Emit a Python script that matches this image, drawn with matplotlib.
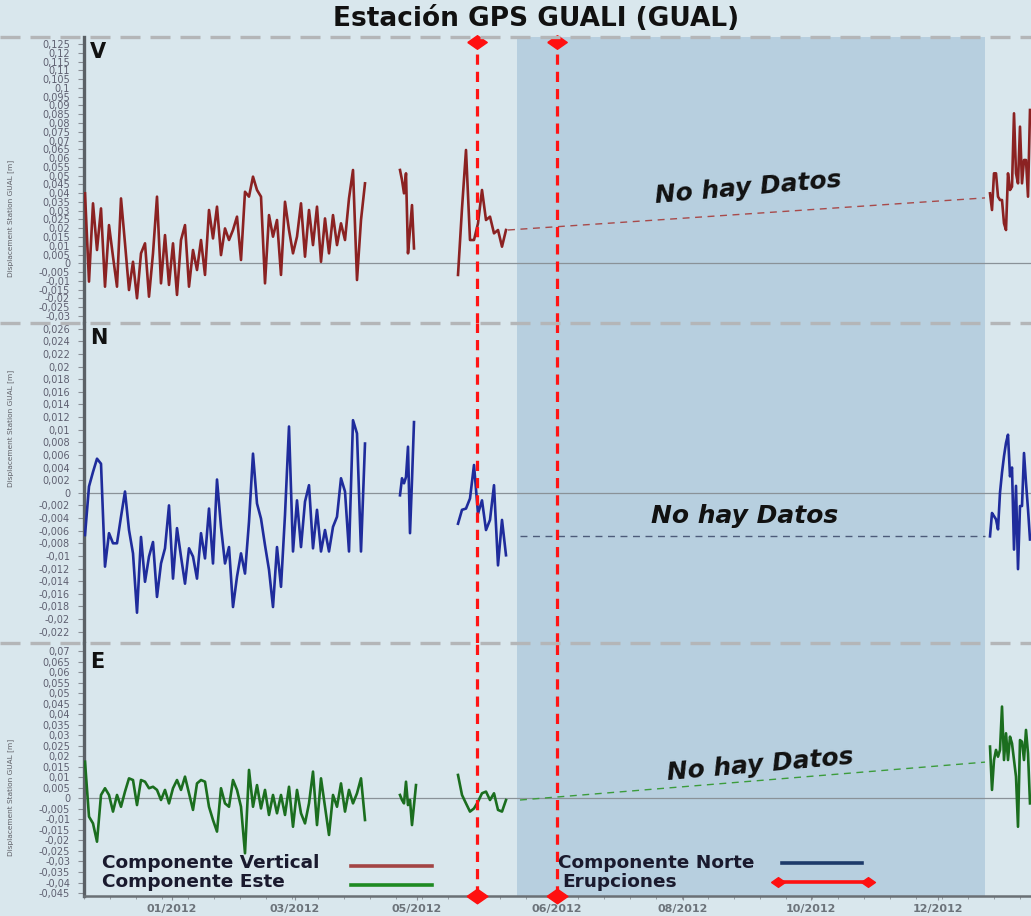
import numpy as np
import matplotlib
matplotlib.use("Agg")
import matplotlib.pyplot as plt
from matplotlib.lines import Line2D
from matplotlib.ticker import FuncFormatter, MultipleLocator
import matplotlib.transforms as mtransforms

# ---------------- data ----------------
title = "Estación GPS GUALI (GUAL)"
date_ticks = [44, 105.5, 166.5, 236.5, 299.5, 363.5, 427]
date_labels = ["01/2012", "03/2012", "05/2012", "06/2012", "08/2012", "10/2012", "12/2012"]
eruption_days = [196.5, 236.5]
nodata_span = [216.5, 450.5]

seg_starts = [0.5, 158, 187, 453]
seg_steps = [2, 1, 2, 1]

v_seg1 = [0.0399, -0.0104, 0.0342, 0.0076, 0.0313, -0.0133, 0.0218, 0.0038, -0.0133, 0.0370,
          0.0114, -0.0152, 0.0009, -0.0199, 0.0057, 0.0114, -0.0190, 0.0057, 0.0380, -0.0114,
          0.0161, -0.0123, 0.0114, -0.0180, 0.0133, 0.0218, -0.0133, 0.0076, -0.0038, 0.0133,
          -0.0066, 0.0304, 0.0142, 0.0323, 0.0047, 0.0199, 0.0133, 0.0190, 0.0266, 0.0019,
          0.0408, 0.0380, 0.0494, 0.0418, 0.0380, -0.0114, 0.0275, 0.0152, 0.0247, -0.0066,
          0.0351, 0.0190, 0.0057, 0.0152, 0.0342, 0.0038, 0.0304, 0.0104, 0.0323, 0.0009,
          0.0256, 0.0057, 0.0275, 0.0104, 0.0228, 0.0133, 0.0370, 0.0532, -0.0095, 0.0247,
          0.0456]
v_seg2 = [0.0532, 0.0475, 0.0399, 0.0513, 0.0057, 0.0190, 0.0332, 0.0085]
v_seg3 = [-0.0066, 0.0313, 0.0646, 0.0133, 0.0133, 0.0228, 0.0418, 0.0247, 0.0266, 0.0171,
          0.0190, 0.0095, 0.0190]
v_seg4 = [0.0399, 0.0304, 0.0513, 0.0513, 0.0380, 0.0361, 0.0361, 0.0228, 0.0190, 0.0513,
          0.0418, 0.0437, 0.0855, 0.0513, 0.0456, 0.0779, 0.0456, 0.0589, 0.0589, 0.0380,
          0.0874]
v_gap_days = [212, 450.5]
v_gap_vals = [0.0190, 0.0373]

n_seg1 = [-0.0067, 0.0010, 0.0033, 0.0054, 0.0046, -0.0117, -0.0064, -0.0080, -0.0080, -0.0038,
          0.0002, -0.0059, -0.0096, -0.0190, -0.0070, -0.0141, -0.0101, -0.0078, -0.0165, -0.0112,
          -0.0088, -0.0020, -0.0136, -0.0056, -0.0101, -0.0144, -0.0088, -0.0101, -0.0136, -0.0064,
          -0.0104, -0.0025, -0.0112, 0.0021, -0.0054, -0.0112, -0.0086, -0.0181, -0.0133, -0.0096,
          -0.0128, -0.0046, 0.0062, -0.0017, -0.0041, -0.0083, -0.0122, -0.0181, -0.0086, -0.0149,
          -0.0035, 0.0105, -0.0093, -0.0012, -0.0086, -0.0014, 0.0012, -0.0088, -0.0027, -0.0093,
          -0.0059, -0.0093, -0.0054, -0.0038, 0.0023, 0.0002, -0.0093, 0.0115, 0.0094, -0.0093,
          0.0078]
n_seg2 = [-0.0004, 0.0023, 0.0015, 0.0025, 0.0073, -0.0064, 0.0020, 0.0112]
n_seg3 = [-0.0049, -0.0027, -0.0025, -0.0009, 0.0044, -0.0033, -0.0012, -0.0059, -0.0043, 0.0012,
          -0.0115, -0.0043, -0.0099]
n_seg4 = [-0.0069, -0.0032, -0.0037, -0.0042, -0.0058, 0.0000, 0.0032, 0.0058, 0.0079, 0.0092,
          0.0026, 0.0040, -0.0090, 0.0011, -0.0121, -0.0021, -0.0021, 0.0063, 0.0016, -0.0026,
          -0.0074]
n_gap_days = [218, 450.5]
n_gap_vals = [-0.0068, -0.0068]

e_seg1 = [0.0174, -0.0087, -0.0119, -0.0206, 0.0016, 0.0048, 0.0016, -0.0063, 0.0016, -0.0040,
          0.0032, 0.0095, 0.0087, -0.0032, 0.0087, 0.0079, 0.0048, 0.0055, 0.0040, -0.0008,
          0.0040, -0.0024, 0.0048, 0.0087, 0.0040, 0.0103, 0.0024, -0.0055, 0.0071, 0.0087,
          0.0079, -0.0040, -0.0103, -0.0158, 0.0048, -0.0024, -0.0040, 0.0087, 0.0040, -0.0040,
          -0.0261, 0.0135, -0.0040, 0.0063, -0.0048, 0.0040, -0.0079, 0.0016, -0.0071, 0.0016,
          -0.0079, 0.0055, -0.0135, 0.0040, -0.0071, -0.0119, -0.0024, 0.0127, -0.0127, 0.0095,
          -0.0040, -0.0174, 0.0016, -0.0040, 0.0071, -0.0063, 0.0040, -0.0024, 0.0024, 0.0095,
          -0.0103]
e_seg2 = [0.0016, -0.0008, -0.0024, 0.0079, -0.0032, -0.0008, -0.0127, -0.0032, 0.0063]
e_seg3 = [0.0111, 0.0016, -0.0024, -0.0063, -0.0048, -0.0016, 0.0024, 0.0032, -0.0008, 0.0024,
          -0.0055, -0.0063, -0.0008]
e_seg4 = [0.0246, 0.0040, 0.0182, 0.0230, 0.0198, 0.0230, 0.0436, 0.0182, 0.0309, 0.0182,
          0.0293, 0.0261, 0.0182, 0.0103, -0.0135, 0.0277, 0.0269, 0.0182, 0.0325, 0.0214,
          -0.0024]
e_gap_days = [218, 450.5]
e_gap_vals = [-0.0008, 0.0172]

legend_labels = ["Componente Vertical", "Componente Este", "Componente Norte", "Erupciones"]

# ---------------- style ----------------
BG = "#d9e7ed"
SHADE = "#b7cfdf"
W, H = 1031, 916
fig = plt.figure(figsize=(W / 100, H / 100), dpi=100, facecolor=BG)

left = 84 / W
panels = [
    dict(name="V", top=37, bot=323, ylim=(-0.0340, 0.1290), ticks=(-0.03, 0.125, 0.005),
         segs=[v_seg1, v_seg2, v_seg3, v_seg4], gap=(v_gap_days, v_gap_vals),
         color="#8b2222", gapcolor="#a84a4a", letter_y=0.982, label_y=0.367,
         nohay=(332, 0.0430, 5)),
    dict(name="N", top=323, bot=643, ylim=(-0.0238, 0.0269), ticks=(-0.022, 0.026, 0.002),
         segs=[n_seg1, n_seg2, n_seg3, n_seg4], gap=(n_gap_days, n_gap_vals),
         color="#1f2c9c", gapcolor="#4d5c7a", letter_y=0.984, label_y=0.67,
         nohay=(330.5, -0.0036, 0)),
    dict(name="E", top=643, bot=896, ylim=(-0.0464, 0.0738), ticks=(-0.045, 0.07, 0.005),
         segs=[e_seg1, e_seg2, e_seg3, e_seg4], gap=(e_gap_days, e_gap_vals),
         color="#1b6e1f", gapcolor="#3c9c3c", letter_y=0.964, label_y=0.39,
         nohay=(338, 0.0158, 5)),
]


def comma_fmt(v, pos):
    s = f"{v:.3f}".rstrip("0").rstrip(".")
    if s in ("-0", ""):
        s = "0"
    return s.replace(".", ",")


diamond = [(-1, 0), (0, 0.7), (1, 0), (0, -0.7), (-1, 0)]
axes = []
for p in panels:
    ax = fig.add_axes([left, 1 - p["bot"] / H, 1 - left, (p["bot"] - p["top"]) / H])
    ax.set_facecolor(BG)
    ax.set_xlim(0, (W - 84) / 2)
    ax.set_ylim(*p["ylim"])
    ax.axvspan(nodata_span[0], nodata_span[1], color=SHADE, zorder=0, lw=0)
    ax.axhline(0, color="#8a9298", lw=0.9, zorder=1)
    for s, st, vals in zip(seg_starts, seg_steps, p["segs"]):
        x = s + st * np.arange(len(vals))
        ax.plot(x, vals, color=p["color"], lw=1.9, zorder=3, solid_joinstyle="round")
    ax.plot(p["gap"][0], p["gap"][1], color=p["gapcolor"], lw=1.0, ls=(0, (5, 4)), zorder=2)
    for d in eruption_days:
        ax.axvline(d, color="#ff1414", lw=2.3, ls=(0, (3.2, 2.2)), zorder=4)
    lo, hi, stp = p["ticks"]
    ax.set_yticks(np.round(np.arange(lo, hi + stp / 2, stp), 3))
    ax.yaxis.set_major_formatter(FuncFormatter(comma_fmt))
    ax.tick_params(axis="y", labelsize=7, labelcolor="#5e5f70", color="#8a8f96",
                   length=4, width=0.8, pad=6)
    for sp in ["top", "right", "bottom"]:
        ax.spines[sp].set_visible(False)
    ax.spines["left"].set_color("#5b6166")
    ax.spines["left"].set_linewidth(2.4)
    ax.set_ylabel("Displacement Station GUAL [m]", fontsize=5.3, color="#5e5f66")
    ax.yaxis.set_label_coords(-0.0739, p["label_y"])
    ax.text(0.006, p["letter_y"], p["name"], transform=ax.transAxes, fontsize=15,
            fontweight="bold", va="top", ha="left", color="#111111", zorder=6)
    nx, ny, rot = p["nohay"]
    ax.text(nx, ny, "No hay Datos", fontsize=18, fontweight="bold", fontstyle="italic",
            ha="center", va="center", rotation=rot, color="#111111", zorder=6,
            rotation_mode="anchor")
    axes.append(ax)

ax_v, ax_n, ax_e = axes
for ax in (ax_v, ax_n):
    ax.set_xticks([])
ax_e.spines["bottom"].set_visible(True)
ax_e.spines["bottom"].set_color("#6a7075")
ax_e.spines["bottom"].set_linewidth(1.8)
ax_e.set_xticks(date_ticks)
ax_e.set_xticklabels(date_labels)
ax_e.xaxis.set_minor_locator(MultipleLocator(13))
ax_e.tick_params(axis="x", which="major", labelsize=8, labelcolor="#6c737a", color="#8a8f96",
                 length=3, pad=3)
for lab in ax_e.get_xticklabels():
    lab.set_fontweight("bold")
ax_e.tick_params(axis="x", which="minor", color="#8a8f96", length=2)

# eruption diamonds (top of V panel, bottom of E panel)
tv = mtransforms.blended_transform_factory(ax_v.transData, ax_v.transAxes)
ax_v.plot(eruption_days, [0.982] * 2, ls="none", marker=diamond, ms=14, color="#ff1010",
          transform=tv, clip_on=False, zorder=7)
te = mtransforms.blended_transform_factory(ax_e.transData, ax_e.transAxes)
ax_e.plot(eruption_days, [0.0] * 2, ls="none", marker=diamond, ms=15, color="#ff1010",
          transform=te, clip_on=False, zorder=7)

# separators
for ypx in (37, 323, 643):
    fig.add_artist(Line2D([0, 1], [1 - ypx / H] * 2, transform=fig.transFigure,
                          color="#b4b6b8", lw=2.4, ls=(0, (6, 3)), zorder=10))

fig.text(536 / W, 1 - 19 / H, title, ha="center", va="center", fontsize=19,
         fontweight="bold", color="#111111")

# legend (drawn manually: text on the left, key on the right)
leg_items = [
    (legend_labels[0], 102, 863, 351, 432, 866, "#a34444", False),
    (legend_labels[1], 102, 882, 351, 432, 885, "#1e8a22", False),
    (legend_labels[2], 558, 863, 782, 862, 863, "#1d3a6a", False),
    (legend_labels[3], 562, 882, 778, 868, 882, "#ff1010", True),
]
for lab, tx, ty, x0, x1, ly, col, mk in leg_items:
    fig.text(tx / W, 1 - ty / H, lab, ha="left", va="center", fontsize=13.3,
             fontweight="bold", color="#1a1a2e")
    fig.add_artist(Line2D([x0 / W, x1 / W], [1 - ly / H] * 2, transform=fig.transFigure,
                          color=col, lw=2.6, marker=diamond if mk else None, ms=10))

fig.savefig("out.png", dpi=100, facecolor=BG)
